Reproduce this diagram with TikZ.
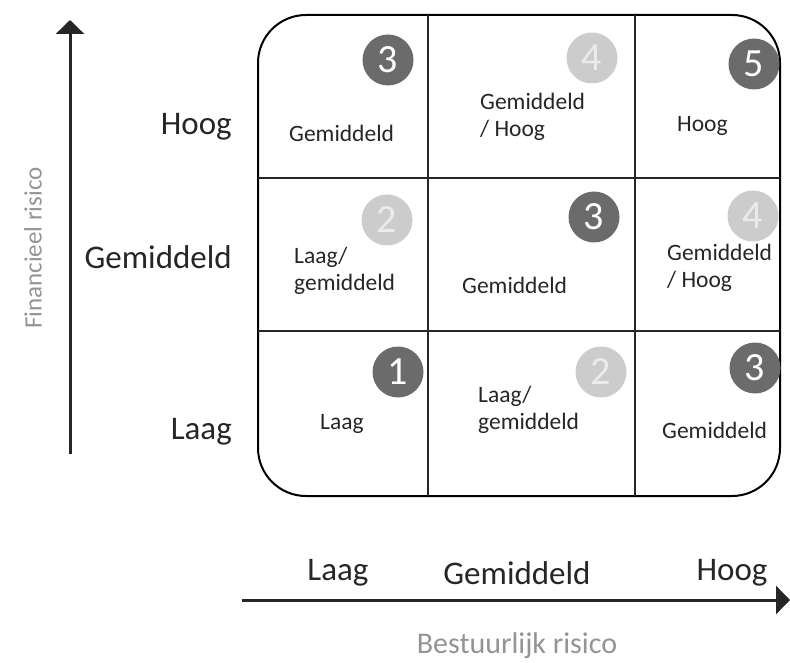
\documentclass[tikz,border=0pt]{standalone}
\usepackage{fontspec}
\setmainfont{Carlito}
\usetikzlibrary{arrows.meta}

\begin{document}
\begin{tikzpicture}[x=1pt, y=-1pt,
  rmcell/.style = {font=\fontsize{23.5}{27}\selectfont, text=black!85, align=left, inner sep=0pt, anchor=west},
  rmaxis/.style = {font=\fontsize{33}{37}\selectfont, text=black!85, inner sep=0pt},
  rmtitle/.style = {font=\fontsize{30}{34}\selectfont, text=black!42, inner sep=0pt},
  rmdark/.style = {circle, fill=black!58, text=white, minimum size=51pt, inner sep=0pt, font=\fontsize{40}{40}\selectfont},
  rmlight/.style = {rmdark, fill=black!20, text=white!92!black},
  rmgrid/.style = {line width=1.4pt, black!85},
  rmarrow/.style = {line width=3pt, black!85, -{Triangle[length=14pt, width=28pt]}}
]
  \useasboundingbox (0,0) rectangle (790,663);
  % risicomatrix
  \node[draw, line width=2pt, rounded corners=48pt, minimum width=522pt, minimum height=481pt, inner sep=0pt] (box) at (519,255.5) {};
  \foreach \x/\n in {428/a, 635/b} {
    \coordinate (top\n) at (\x,15);
    \coordinate (bot\n) at (\x,496);
    \draw[rmgrid] (top\n) -- (bot\n);
  }
  \foreach \y/\n in {178/a, 331/b} {
    \coordinate (lft\n) at (258,\y);
    \coordinate (rgt\n) at (780,\y);
    \draw[rmgrid] (lft\n) -- (rgt\n);
  }
  % bolletjes
  \node[rmdark]  (c13) at (388,60)  {3};
  \node[rmlight] (c23) at (592,58)  {4};
  \node[rmdark]  (c33) at (754,64)  {5};
  \node[rmlight] (c12) at (387,220) {2};
  \node[rmdark]  (c22) at (594,217) {3};
  \node[rmlight] (c32) at (753,216) {4};
  \node[rmdark]  (c11) at (398,372) {1};
  \node[rmlight] (c21) at (601,372) {2};
  \node[rmdark]  (c31) at (755,368) {3};
  % teksten in de cellen
  \node[rmcell] (t13) at (289,133) {Gemiddeld};
  \node[rmcell] (t23) at (480,117) {Gemiddeld\\/ Hoog};
  \node[rmcell] (t33) at (677,126) {Hoog};
  \node[rmcell] (t12) at (294,271) {Laag/\\gemiddeld};
  \node[rmcell] (t22) at (462,285) {Gemiddeld};
  \node[rmcell] (t32) at (667,268) {Gemiddeld\\/ Hoog};
  \node[rmcell] (t11) at (320,424) {Laag};
  \node[rmcell] (t21) at (478,410) {Laag/\\gemiddeld};
  \node[rmcell] (t31) at (662,430) {Gemiddeld};
  % assen
  \coordinate (yfrom) at (70,454);
  \coordinate (yto) at (70,20);
  \coordinate (xfrom) at (242,600);
  \coordinate (xto) at (790,600);
  \draw[rmarrow] (yfrom) -- (yto);
  \draw[rmarrow] (xfrom) -- (xto);
  \node[rmaxis, anchor=east] (yh) at (232,127) {Hoog};
  \node[rmaxis, anchor=east] (ym) at (232,257) {Gemiddeld};
  \node[rmaxis, anchor=east] (yl) at (232,432) {Laag};
  \node[rmaxis] (xl) at (338,573) {Laag};
  \node[rmaxis] (xm) at (517,573) {Gemiddeld};
  \node[rmaxis] (xh) at (732,573) {Hoog};
  \node[rmtitle, font=\fontsize{25}{29}\selectfont, rotate=90] (ytitle) at (33,248) {Financieel risico};
  \node[rmtitle] (xtitle) at (517,646) {Bestuurlijk risico};
\end{tikzpicture}
\end{document}
